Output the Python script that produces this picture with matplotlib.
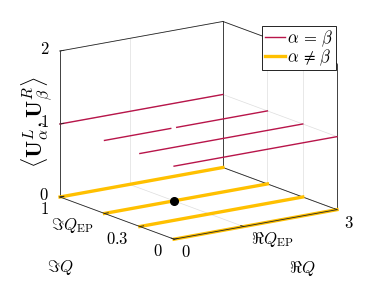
import numpy as np
import matplotlib
matplotlib.use('Agg')
import matplotlib.pyplot as plt
from matplotlib.transforms import offset_copy
from mpl_toolkits.mplot3d import proj3d

# Datos
re_ep = 1.28
im_ep = 0.61
im_q = [0, 0.3, im_ep, 1]
re_q = [0, 3]
re_q_gap = [0, 1.22, np.nan, 1.33, 3]   # la linea en Im Q_EP se corta en el EP
same_val = 1   # alpha = beta
diff_val = 0   # alpha != beta

x_ticks = [0, re_ep, 3]
x_tick_labels = ['$0$', r'$\Re Q_{\mathrm{EP}}$', '$3$']
y_ticks = [0, 0.3, im_ep, 1]
y_tick_labels = ['$0$', '$0.3$', r'$\Im Q_{\mathrm{EP}}$', '$1$']
z_ticks = [0, 1, 2]
z_tick_labels = ['$0$', '$1$', '$2$']

red = '#b8154a'
gold = '#ffc000'
edge = '#262626'
grid = '#dedede'
aspect = (1, 1, 0.76)

plt.rcParams['mathtext.fontset'] = 'cm'

fig = plt.figure(figsize=(3.76, 2.82), dpi=100)
W, H = fig.bbox.width, fig.bbox.height
ax = fig.add_subplot(projection='3d', proj_type='ortho')
L = 230   # lado del cuadrado de los ejes, en pixeles
ax.set_position([(198 - L / 2) / W, (H - 131 - L / 2) / H, L / W, L / H])
ax.computed_zorder = False
ax.view_init(elev=15, azim=-125)
ax.set_box_aspect(aspect)
ax.set_xlim(0, 3)
ax.set_ylim(0, 1)
ax.set_zlim(0, 2)
ax.set_axis_off()

x0, x1 = ax.get_xlim()
y0, y1 = ax.get_ylim()
z0, z1 = ax.get_zlim()


def line3d(xs, ys, zs, **kw):
    ax.plot(xs, ys, zs, clip_on=False, **kw)


# Rejilla en las caras traseras
for t in x_ticks:
    line3d([t, t], [y0, y1], [z0, z0], color=grid, lw=0.5, zorder=0.5)
    line3d([t, t], [y1, y1], [z0, z1], color=grid, lw=0.5, zorder=0.5)
for t in y_ticks:
    line3d([x0, x1], [t, t], [z0, z0], color=grid, lw=0.5, zorder=0.5)
    line3d([x1, x1], [t, t], [z0, z1], color=grid, lw=0.5, zorder=0.5)
for t in z_ticks:
    line3d([x0, x1], [y1, y1], [t, t], color=grid, lw=0.5, zorder=0.5)
    line3d([x1, x1], [y0, y1], [t, t], color=grid, lw=0.5, zorder=0.5)

# Caja (solo las caras traseras, como en MATLAB)
back_edges = [((x0, x1), (y1, y1), (z0, z0)), ((x0, x1), (y1, y1), (z1, z1)),
              ((x1, x1), (y0, y1), (z0, z0)), ((x1, x1), (y0, y1), (z1, z1)),
              ((x0, x0), (y1, y1), (z0, z1)), ((x1, x1), (y1, y1), (z0, z1)),
              ((x1, x1), (y0, y0), (z0, z1))]
front_edges = [((x0, x1), (y0, y0), (z0, z0)), ((x0, x0), (y0, y1), (z0, z0))]
for ex, ey, ez in back_edges:
    line3d(ex, ey, ez, color=edge, lw=0.6, zorder=1)
for ex, ey, ez in front_edges:
    line3d(ex, ey, ez, color=edge, lw=0.6, zorder=5)
# marcas de los ejes
for t in x_ticks:
    line3d([t, t], [y0, y0 + 0.025], [z0, z0], color=edge, lw=0.6, zorder=5)
for t in y_ticks:
    line3d([x0, x0 + 0.07], [t, t], [z0, z0], color=edge, lw=0.6, zorder=5)
for t in z_ticks:
    line3d([x0, x0 + 0.07], [y1, y1], [t, t], color=edge, lw=0.6, zorder=5)

# Lineas de datos
for i, im in enumerate(im_q[::-1]):
    xs = re_q_gap if im == im_ep else re_q
    line3d(xs, [im] * len(xs), [same_val] * len(xs), color=red, lw=1.0,
           zorder=3, label=r'$\alpha \,=\, \beta$' if i == 0 else None)
for i, im in enumerate(im_q[::-1]):
    line3d(re_q, [im] * len(re_q), [diff_val] * len(re_q), color=gold, lw=2.4,
           zorder=2, label=r'$\alpha \,\neq\, \beta$' if i == 0 else None)
line3d([re_ep], [im_ep], [diff_val], marker='o', ls='none', color='black',
       ms=5.5, zorder=6)


# Ajuste de escala y posicion de la caja proyectada a la del original
def to_px(x, y, z):
    px, py, _ = proj3d.proj_transform(x, y, z, ax.get_proj())
    return ax.transData.transform((px, py))


ta = (60, H - 197)
tb = (337, H - 210)
fig.canvas.draw()
a = to_px(x0, y1, z0)
b = to_px(x1, y0, z0)
ax.set_box_aspect(aspect, zoom=(tb[0] - ta[0]) / (b[0] - a[0]))
fig.canvas.draw()
a = to_px(x0, y1, z0)
pos = ax.get_position()
ax.set_position([pos.x0 + (ta[0] - a[0]) / W, pos.y0 + (ta[1] - a[1]) / H,
                 pos.width, pos.height])
fig.canvas.draw()


def label3d(x, y, z, txt, dx, dy, **kw):
    tr = offset_copy(ax.transData, fig=fig, x=dx, y=dy, units='dots')
    ax.text(x, y, z, txt, transform=tr, fontsize=12, **kw)


for t, lab in zip(x_ticks, x_tick_labels):
    label3d(t, y0, z0, lab, 7, -13, ha='left', va='center')
for t, lab in zip(y_ticks, y_tick_labels):
    label3d(x0, t, z0, lab, -11, -12, ha='right', va='center')
for t, lab in zip(z_ticks, z_tick_labels):
    label3d(x0, y1, t, lab, -11, 2, ha='right', va='center')
label3d((x0 + x1) / 2, y0, z0, r'$\Re Q$', 47, -44, ha='center', va='center')
label3d(x0, (y0 + y1) / 2, z0, r'$\Im Q$', -57, -49, ha='center', va='center')

# etiqueta del eje z (texto girado en 2D)
zx, zy = to_px(x0, y1, (z0 + z1) / 2)
fig.text((zx - 23) / W, (zy + 2) / H,
         r'$\langle \mathbf{U}_\alpha^L, \mathbf{U}_\beta^R \rangle$',
         fontsize=16, rotation=90, rotation_mode='anchor', ha='center', va='center')

leg = ax.legend(loc='upper right', bbox_to_anchor=(336 / W, 1 - 26 / H),
                bbox_transform=fig.transFigure, borderaxespad=0, fontsize=12,
                fancybox=False, framealpha=1, edgecolor='black', borderpad=0.15,
                handlelength=1.2, handletextpad=0.15, labelspacing=-0.1)
leg.get_frame().set_linewidth(0.6)
leg.set_zorder(10)

fig.savefig('out.png', dpi=100)
